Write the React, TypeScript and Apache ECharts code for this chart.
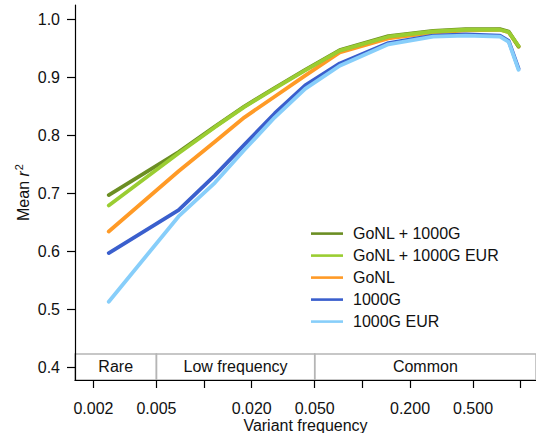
import React, { useEffect, useRef } from "react";
import * as echarts from "echarts";

// Variant frequency (bin positions) and mean r^2 per reference panel
const freqs = [0.0025, 0.0069, 0.0117, 0.018, 0.028, 0.0435, 0.072, 0.146, 0.28, 0.45, 0.74, 0.84, 0.97];
const gonl1000g = [0.697, 0.771, 0.815, 0.850, 0.882, 0.913, 0.947, 0.971, 0.980, 0.983, 0.983, 0.979, 0.953];
const gonl1000gEur = [0.679, 0.769, 0.814, 0.849, 0.881, 0.912, 0.946, 0.970, 0.979, 0.982, 0.982, 0.978, 0.954];
const gonl = [0.634, 0.738, 0.789, 0.831, 0.867, 0.903, 0.943, 0.967, 0.977, 0.981, 0.982, 0.978, 0.953];
const g1000 = [0.597, 0.671, 0.731, 0.784, 0.838, 0.886, 0.924, 0.959, 0.972, 0.974, 0.972, 0.963, 0.915];
const g1000Eur = [0.513, 0.660, 0.718, 0.775, 0.831, 0.880, 0.920, 0.957, 0.970, 0.972, 0.970, 0.961, 0.913];

const seriesNames = ["GoNL + 1000G", "GoNL + 1000G EUR", "GoNL", "1000G", "1000G EUR"];
const seriesColors = ["#6b8e23", "#9acd32", "#ff9a26", "#3a5fcd", "#87cefa"];

const xTickValues = [0.002, 0.005, 0.01, 0.02, 0.05, 0.1, 0.2, 0.5, 1];
const xLabelValues = [0.002, 0.005, 0.02, 0.05, 0.2, 0.5];
const yTickValues = [0.4, 0.5, 0.6, 0.7, 0.8, 0.9, 1.0];

const xMin = 0.00153;
const xMax = 1.25;
const yMin = 0.378;
const yMax = 1.0247;

const bandLabels = ["Rare", "Low frequency", "Common"];
const bandEdges = [xMin, 0.005, 0.05, xMax];
const bandTop = 0.423;

const FONT = "Liberation Sans, Arial, Helvetica, sans-serif";
const FS = 16;

export default function App() {
  const ref = useRef<HTMLDivElement>(null);
  useEffect(() => {
    if (!ref.current) return;
    const chart = echarts.init(ref.current, null, { renderer: "svg" });
    const lg = Math.log10;
    const mk = (vals: number[]) => freqs.map((f, i) => [lg(f), vals[i]]);
    const valuesByName: Record<string, number[]> = {
      "GoNL + 1000G": gonl1000g,
      "GoNL + 1000G EUR": gonl1000gEur,
      GoNL: gonl,
      "1000G": g1000,
      "1000G EUR": g1000Eur,
    };
    // draw order: orange, blues, then greens on top
    const drawOrder = ["GoNL", "1000G", "1000G EUR", "GoNL + 1000G", "GoNL + 1000G EUR"];
    const series: any[] = drawOrder.map((name) => {
      const c = seriesColors[seriesNames.indexOf(name)];
      return {
        name,
        type: "line",
        data: mk(valuesByName[name]),
        symbol: "none",
        showSymbol: false,
        smooth: false,
        color: c,
        lineStyle: { color: c, width: 3.8, cap: "round", join: "round" },
        z: 3,
      };
    });
    series.push({
      name: "band",
      type: "line",
      data: [],
      silent: true,
      markArea: {
        silent: true,
        itemStyle: { color: "rgba(0,0,0,0)", borderColor: "#b5b5b5", borderWidth: 1.5 },
        label: { show: true, position: "inside", color: "#111", fontSize: FS, fontFamily: FONT },
        data: bandLabels.map((lab, i) => [
          { name: lab, xAxis: lg(bandEdges[i]), yAxis: yMin },
          { xAxis: lg(bandEdges[i + 1]), yAxis: bandTop },
        ]),
      },
      z: 1,
    });

    chart.setOption({
      animation: false,
      textStyle: { fontFamily: FONT },
      grid: {
        left: 75,
        top: 5,
        width: 461,
        height: 375,
        containLabel: false,
        outerBoundsMode: "none",
      },
      legend: {
        orient: "vertical",
        left: 311,
        top: 225.6,
        padding: 0,
        itemWidth: 32,
        itemHeight: 2.6,
        itemGap: 6,
        icon: "rect",
        data: seriesNames,
        textStyle: {
          fontSize: FS,
          lineHeight: 14,
          height: 14,
          color: "#111",
          fontFamily: FONT,
          padding: [0, 0, 0, 5],
        },
        selectedMode: false,
      },
      xAxis: {
        type: "value",
        min: lg(xMin),
        max: lg(xMax),
        z: 10,
        name: "Variant frequency",
        nameLocation: "middle",
        nameGap: 39.5,
        nameMoveOverlap: false,
        nameTextStyle: { fontSize: FS, lineHeight: 12, color: "#111", fontFamily: FONT },
        axisLine: { show: true, onZero: false, lineStyle: { color: "#000", width: 1.2 } },
        axisTick: {
          show: true,
          length: 8,
          customValues: xTickValues.map(lg),
          lineStyle: { color: "#000", width: 1.2 },
        },
        axisLabel: {
          show: true,
          margin: 22,
          lineHeight: 12,
          customValues: xLabelValues.map(lg),
          fontSize: FS,
          color: "#111",
          fontFamily: FONT,
          formatter: (v: number) => Math.pow(10, v).toFixed(3),
        },
        splitLine: { show: false },
      },
      yAxis: {
        type: "value",
        min: yMin,
        max: yMax,
        z: 10,
        name: "{n|Mean }{i|r}{s|2}",
        nameLocation: "middle",
        nameGap: 42,
        nameRotate: 90,
        nameMoveOverlap: false,
        nameTextStyle: {
          fontSize: FS,
          color: "#111",
          fontFamily: FONT,
          rich: {
            n: { fontSize: FS, color: "#111", fontFamily: FONT },
            i: { fontSize: FS, color: "#111", fontFamily: FONT, fontStyle: "italic" },
            s: { fontSize: 11, color: "#111", fontFamily: FONT, padding: [0, 0, 9, 1] },
          },
        },
        axisLine: { show: true, onZero: false, lineStyle: { color: "#000", width: 1.2 } },
        axisTick: {
          show: true,
          length: 8,
          customValues: yTickValues,
          lineStyle: { color: "#000", width: 1.2 },
        },
        axisLabel: {
          show: true,
          margin: 15,
          customValues: yTickValues,
          fontSize: FS,
          color: "#111",
          fontFamily: FONT,
          formatter: (v: number) => v.toFixed(1),
        },
        splitLine: { show: false },
      },
      series,
    });
    return () => chart.dispose();
  }, []);
  return (
    <div
      ref={ref}
      style={{ position: "absolute", left: 0, top: 0, width: 536, height: 433, background: "#fff" }}
    />
  );
}
